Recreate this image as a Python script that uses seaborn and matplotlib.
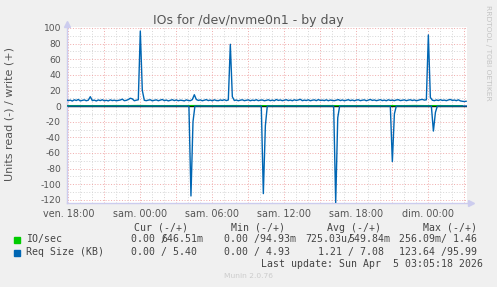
import numpy as np
import pandas as pd
import matplotlib
matplotlib.use("Agg")
import matplotlib.pyplot as plt
import seaborn as sns
from matplotlib.patches import Rectangle

# ---------------- data ----------------
title = "IOs for /dev/nvme0n1 - by day"
ylabel = "Units read (-) / write (+)"
x_tick_hours = [0, 6, 12, 18, 24, 30]          # hours after Fri 18:00
x_tick_labels = ["ven. 18:00", "sam. 00:00", "sam. 06:00",
                 "sam. 12:00", "sam. 18:00", "dim. 00:00"]
y_ticks = [100, 80, 60, 40, 20, 0, -20, -40, -60, -80, -100, -120]

start_hour = -1 / 6      # Fri 17:50
step_hour = 1 / 6        # 10 minute samples

# Req Size (KB) write, 10-minute samples
write_req_kb = [
    8.2, 6.9, 7.6, 6.4, 8.0, 7.1, 8.4, 6.6, 7.3, 7.9,
    6.8, 7.5, 12.0, 7.0, 7.6, 6.5, 7.8, 7.0, 8.1, 6.7,
    7.4, 6.6, 7.9, 7.0, 7.5, 6.8, 7.2, 7.7, 8.8, 6.9,
    7.3, 8.3, 10.0, 9.2, 6.8, 7.5, 8.0, 96.0, 20.0, 7.4,
    6.9, 7.6, 8.0, 6.7, 7.4, 7.9, 6.8, 7.6, 8.4, 6.9,
    7.7, 6.6, 7.4, 8.1, 7.0, 7.8, 6.8, 7.5, 7.2, 6.6,
    7.9, 7.1, 6.9, 8.2, 14.5, 8.4, 7.2, 7.8, 6.8, 7.5,
    8.2, 7.0, 7.7, 6.7, 8.0, 7.1, 6.9, 7.8, 7.2, 8.1,
    7.0, 7.8, 79.0, 12.0, 7.1, 7.7, 6.8, 7.5, 8.0, 6.9,
    7.4, 7.9, 6.8, 7.6, 7.1, 8.1, 6.9, 7.5, 7.8, 6.8,
    7.3, 8.0, 6.9, 7.6, 6.8, 8.4, 7.2, 7.8, 6.9, 7.5,
    8.1, 7.0, 7.7, 6.8, 8.0, 7.2, 7.8, 8.6, 6.9, 7.6,
    7.1, 8.0, 6.8, 7.5, 7.9, 6.9, 8.2, 7.2, 7.6, 7.0,
    8.0, 6.8, 7.7, 7.2, 6.9, 7.6, 8.2, 7.0, 7.8, 6.8,
    7.5, 8.1, 7.0, 7.7, 6.8, 7.6, 8.0, 6.9, 7.5, 7.9,
    6.8, 7.6, 8.4, 7.2, 7.8, 6.9, 7.5, 8.1, 7.0, 7.6,
    6.8, 8.0, 7.2, 7.6, 6.9, 7.8, 8.1, 7.0, 7.5, 7.9,
    6.9, 7.6, 8.0, 7.1, 7.8, 6.8, 7.5, 8.1, 8.5, 7.6,
    8.0, 91.0, 11.0, 7.5, 6.9, 7.8, 7.1, 8.1, 7.2, 7.6,
    6.9, 7.8, 8.4, 7.2, 7.7, 6.9, 8.0, 6.6, 6.1, 5.8,
    6.2,
]

# Req Size (KB) read (drawn negative) - sparse samples
read_req_hours = [-0.167, 10.05, 10.22, 10.39, 10.55, 16.08, 16.25, 16.42, 16.58,
                  22.11, 22.28, 22.45, 22.61, 26.83, 27.0, 27.17, 27.33,
                  30.25, 30.42, 30.59, 30.75, 33.22]
read_req_kb = [0, 0, 115, 20, 0, 0, 112, 25, 0,
               0, 123.6, 15, 0, 0, 71, 10, 0,
               0, 32, 8, 0, 0]

# IO/sec, hourly samples
write_io = [0.55, 0.60, 0.50, 0.48, 0.62, 0.55, 0.70, 0.52, 0.50, 0.58,
            0.60, 0.65, 0.50, 0.55, 0.62, 0.50, 0.58, 0.52, 0.60, 0.55,
            0.50, 0.57, 0.62, 0.50, 0.55, 0.60, 0.52, 0.58, 0.50, 0.70,
            0.55, 0.60, 0.52, 0.55]
read_io = [0.0, 0.0, 0.0, 0.001, 0.0, 0.0, 0.0, 0.0, 0.0, 0.0,
           0.002, 0.0, 0.0, 0.0, 0.0, 0.0, 0.001, 0.0, 0.0, 0.0,
           0.0, 0.0, 0.002, 0.0, 0.0, 0.0, 0.0, 0.001, 0.0, 0.0,
           0.0, 0.0, 0.0, 0.0]

legend_header = ["Cur (-/+)", "Min (-/+)", "Avg (-/+)", "Max (-/+)"]
legend_names = ["IO/sec", "Req Size (KB)"]
last_update = "Last update: Sun Apr  5 03:05:18 2026"

# ---------------- frames ----------------
df_w = pd.DataFrame({"h": start_hour + step_hour * np.arange(len(write_req_kb)),
                     "v": write_req_kb})
df_r = pd.DataFrame({"h": read_req_hours, "v": -np.array(read_req_kb, dtype=float)})
df_wio = pd.DataFrame({"h": start_hour + np.arange(len(write_io)), "v": write_io})
df_rio = pd.DataFrame({"h": start_hour + np.arange(len(read_io)),
                       "v": -np.array(read_io)})

# ---------------- figure ----------------
sns.set_style("white")
plt.rcParams["font.family"] = ["DejaVu Sans"]

W, H = 497, 287
fig = plt.figure(figsize=(W / 100, H / 100), dpi=100, facecolor="#F0F0F0")


def fx(px):
    return px / W


def fy(py):
    return 1 - py / H


ax = fig.add_axes([fx(67), fy(203), fx(467) - fx(67), fy(26.7) - fy(203)])
ax.set_facecolor("white")

RED = "#F0ABAB"
GREY = "#D6D6D6"
dots = (0, (1, 1.8))
for h in range(0, 34):
    ax.axvline(h, color=RED if h % 3 == 0 else GREY, lw=0.7, ls=dots, zorder=0.5)
for y in range(-120, 101, 10):
    ax.axhline(y, color=RED if y % 20 == 0 else GREY, lw=0.7, ls=dots, zorder=0.5)

GREEN = "#00CC00"
BLUE = "#0066B3"
sns.lineplot(data=df_rio, x="h", y="v", ax=ax, color=GREEN, lw=1.0, zorder=2)
ax.axhline(0, color="black", lw=1.0, zorder=2.5)
sns.lineplot(data=df_wio, x="h", y="v", ax=ax, color=GREEN, lw=0.9, zorder=3)
sns.lineplot(data=df_r, x="h", y="v", ax=ax, color=BLUE, lw=1.0, zorder=4)
sns.lineplot(data=df_w, x="h", y="v", ax=ax, color=BLUE, lw=1.0, zorder=4)

ax.set_xlim(-0.108, 33.22)
ax.set_ylim(-124, 101.5)
ax.set_xlabel("")
ax.set_ylabel("")

ax.set_xticks(x_tick_hours)
ax.set_xticklabels(x_tick_labels)
ax.set_xticks([h for h in range(0, 34, 3) if h not in x_tick_hours], minor=True)
ax.set_yticks(y_ticks)
ax.set_yticklabels([str(v) for v in y_ticks])
ax.tick_params(axis="x", which="both", length=2.5, width=0.8, color=RED,
               labelsize=6.9, labelcolor="#555555", pad=1.6, direction="out")
ax.tick_params(axis="y", which="both", length=1.5, width=0.8, color=GREY,
               labelsize=6.6, labelcolor="#555555", pad=2.8, direction="out")

for s in ["top", "right"]:
    ax.spines[s].set_visible(False)
for s in ["left", "bottom"]:
    ax.spines[s].set_color("#CCCCEE")
    ax.spines[s].set_linewidth(1.0)

# axis arrows
fig.add_artist(plt.Line2D([fx(67)], [fy(23.5)], marker="^", ms=4.6, color="#CCCCEE",
                          mec="#CCCCEE", transform=fig.transFigure))
fig.add_artist(plt.Line2D([fx(471)], [fy(203.3)], marker=">", ms=4.6, color="#CCCCEE",
                          mec="#CCCCEE", transform=fig.transFigure))

# texts
fig.text(0.5, fy(24), title, ha="center", va="baseline", fontsize=9, color="#555555")
fig.text(fx(10), fy(114.2), ylabel, rotation=90, ha="center", va="center",
         fontsize=8, color="#555555")
fig.text(fx(488), fy(53.3), "RRDTOOL / TOBI OETIKER", rotation=270, ha="center",
         va="center", fontsize=5.4, color="#C4C4C4")
fig.text(fx(248), fy(276), "Munin 2.0.76", ha="center", va="center",
         fontsize=5.4, color="#CCCCCC")

MONO = dict(family="DejaVu Sans Mono", fontsize=7.1, color="#444444", va="center")
for x, s in zip([134.3, 230.7, 327.3, 422.7], legend_header):
    fig.text(fx(x), fy(227.7), s, ha="left", **MONO)

fig.add_artist(Rectangle((fx(14), fy(243)), fx(6), 6 / H, color=GREEN,
                         transform=fig.transFigure))
fig.add_artist(Rectangle((fx(14), fy(255.5)), fx(6), 6 / H, color=BLUE,
                         transform=fig.transFigure))

row1 = [(26, legend_names[0]), (131, "0.00 /"), (161, "646.51m"),
        (224.3, "0.00 /94.93m"), (305.7, "725.03u/"), (348, "549.84m"),
        (399, "256.09m/ 1.46")]
row2 = [(26, legend_names[1]), (131, "0.00 / 5.40"), (224.3, "0.00 / 4.93"),
        (317.7, "1.21 / 7.08"), (399, "123.64 /95.99")]
for x, s in row1:
    fig.text(fx(x), fy(239.3), s, ha="left", **MONO)
for x, s in row2:
    fig.text(fx(x), fy(251.7), s, ha="left", **MONO)
fig.text(fx(482.7), fy(264), last_update, ha="right", **MONO)

fig.savefig("out.png", dpi=100, facecolor=fig.get_facecolor())
